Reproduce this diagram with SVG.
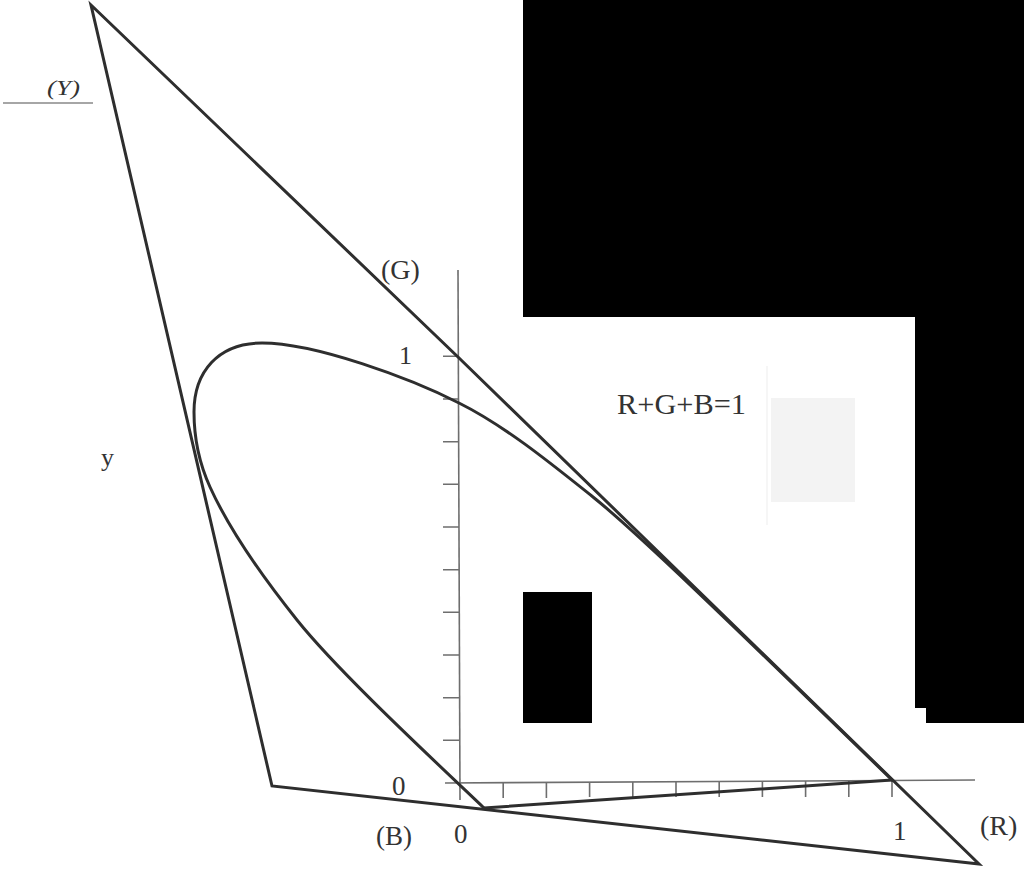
<svg xmlns="http://www.w3.org/2000/svg" width="1024" height="874" viewBox="0 0 1024 874">
  <style>
    .heavy { fill: none; stroke: #2e2e2e; stroke-width: 3; stroke-linejoin: miter; stroke-linecap: round; }
    .axis { fill: none; stroke: #6e6e6e; stroke-width: 1.6; }
    .tick { fill: none; stroke: #6e6e6e; stroke-width: 1.6; }
    .lbl { font-family: "Liberation Serif", "Times New Roman", serif; fill: #333; }
    .mask { fill: #000; }
  </style>
  <rect x="0" y="0" width="1024" height="874" fill="#fff"/>

  <!-- faint scan smudge -->
  <rect x="771" y="398" width="84" height="104" fill="#f3f3f3"/>
  <line x1="767" y1="366" x2="767" y2="525" stroke="#f3f3f3" stroke-width="1.5"/>

  <g id="axes">
    <line class="axis" x1="458" y1="270" x2="460" y2="800"/>
    <line class="axis" x1="445" y1="783" x2="975" y2="780"/>
    <path class="tick" d="M443,740.3H459 M443,697.7H459 M443,655H459 M443,612.3H459 M443,569.7H459 M443,527H459 M443,484.3H459 M443,441.7H459 M443,399H459 M443,356.3H459"/>
    <path class="tick" d="M503.2,783V798 M546.4,783V798 M589.6,782V797 M632.8,782V797 M676,782V797 M719.2,782V797 M762.4,781V797 M805.6,781V797 M848.8,781V797 M892,780V797"/>
    <line x1="3" y1="103" x2="93" y2="103" stroke="#888" stroke-width="1.5"/>
  </g>

  <g id="triangle-xyz">
    <path class="heavy" d="M91,5 L458,357 L979,864 L272,786 Z"/>
  </g>

  <g id="spectrum-locus">
    <path class="heavy" d="M892,780 C722,614.6 635,530.6 593,497 C548,461 504,425.5 459,403 C410,378 315,343 262,343 C218,343 194,372 194,412 C194,440 201,467.2 210,487 C232,535.4 274,591.25 297,620 C337,670 424,751 484,808"/>
  </g>

  <g id="purple-line">
    <path class="heavy" d="M484,808 L892,780"/>
  </g>

  <g id="labels">
    <text class="lbl" x="47" y="95" font-size="21" font-style="italic" textLength="33" lengthAdjust="spacingAndGlyphs">(Y)</text>
    <text class="lbl" x="381" y="279" font-size="28">(G)</text>
    <text class="lbl" x="399" y="364" font-size="26">1</text>
    <text class="lbl" x="101" y="466" font-size="26">y</text>
    <text class="lbl" x="617" y="414" font-size="30" textLength="129" lengthAdjust="spacingAndGlyphs">R+G+B=1</text>
    <text class="lbl" x="392" y="795" font-size="27">0</text>
    <text class="lbl" x="376" y="845" font-size="27">(B)</text>
    <text class="lbl" x="454" y="843" font-size="27">0</text>
    <text class="lbl" x="893" y="840" font-size="27">1</text>
    <text class="lbl" x="980" y="835" font-size="28">(R)</text>
  </g>

  <g id="redactions">
    <rect class="mask" x="523" y="0" width="501" height="317"/>
    <rect class="mask" x="915" y="316" width="109" height="392"/>
    <rect class="mask" x="926" y="706" width="98" height="17"/>
    <rect class="mask" x="523" y="592" width="69" height="131"/>
  </g>
</svg>
